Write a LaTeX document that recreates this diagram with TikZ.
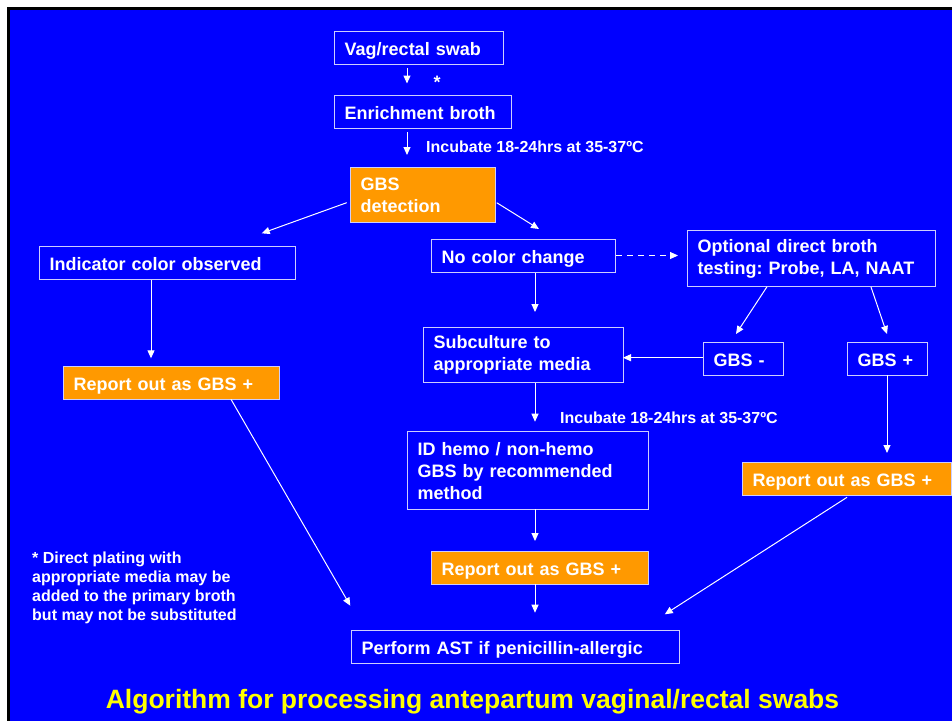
\documentclass[tikz,border=0pt]{standalone}
\usepackage{fontspec}
\setmainfont{Liberation Sans}
\frenchspacing
\usetikzlibrary{arrows.meta,calc}
\definecolor{bgblue}{RGB}{0,0,255}
\definecolor{gbsorange}{RGB}{255,153,0}
\definecolor{edgecol}{RGB}{205,205,255}
\definecolor{titleyellow}{RGB}{255,255,0}
\tikzset{
  bx/.style={draw=edgecol, line width=1.4pt, text=white, anchor=north west, align=left,
    inner xsep=10pt, inner ysep=0pt, font=\bfseries\fontsize{18}{22}\selectfont},
  obx/.style={bx, fill=gbsorange},
  oneline/.style={text height=15.5pt, text depth=1pt},
  arr/.style={draw=white, line width=1pt, -{Triangle[width=7pt,length=8pt]}},
  dasharr/.style={arr, dash pattern=on 6pt off 5pt},
  lbl/.style={text=white, inner sep=0pt, font=\bfseries\fontsize{16}{19}\selectfont}
}
\begin{document}
\frenchspacing
\begin{tikzpicture}[x=1pt,y=-1pt]
\useasboundingbox (0,0) rectangle (952,721);
\fill[white] (0,0) rectangle (952,721);
\fill[black] (7,7) rectangle (952,721);
\fill[bgblue] (10,10) rectangle (952,721);

\node[bx, oneline, text width=149pt, minimum height=33pt] (swab) at (334,31) {Vag/rectal swab};
\node[bx, oneline, text width=157pt, minimum height=33pt] (enrich) at (334,95) {Enrichment broth};
\node[obx, text width=125pt, minimum height=55pt] (gbsdet) at (350,167) {GBS\\detection};
\node[bx, oneline, text width=236pt, minimum height=33pt] (indic) at (39,246) {Indicator color observed};
\node[obx, oneline, text width=196pt, minimum height=33pt] (repL) at (63,366) {Report out as GBS +};
\node[bx, oneline, text width=164pt, minimum height=33pt] (nocol) at (431,239) {No color change};
\node[bx, text width=228pt, minimum height=56pt] (opt) at (687,230) {Optional direct broth\\testing: Probe, LA, NAAT};
\node[bx, text width=180pt, minimum height=55pt] (sub) at (423,327) {Subculture to\\appropriate media};
\node[bx, oneline, text width=60pt, minimum height=33pt] (gbsm) at (703,342) {GBS -};
\node[bx, oneline, text width=60pt, minimum height=33pt] (gbsp) at (847,342) {GBS +};
\node[bx, text width=221pt, minimum height=78pt] (idh) at (407,431) {ID hemo / non-hemo\\GBS by recommended\\method};
\node[obx, oneline, text width=189pt, minimum height=33pt] (repR) at (742,462) {Report out as GBS +};
\node[obx, oneline, text width=197pt, minimum height=33pt] (repM) at (431,551) {Report out as GBS +};
\node[bx, oneline, text width=308pt, minimum height=33pt] (ast) at (351,630) {Perform AST if penicillin-allergic};

\node[lbl, font=\bfseries\fontsize{18}{22}\selectfont] (star) at (437,82) {*};
\node[lbl, anchor=west] (inc1) at (426,146.7) {Incubate 18-24hrs at 35-37ºC};
\node[lbl, anchor=west] (inc2) at (560,418) {Incubate 18-24hrs at 35-37ºC};
\node[lbl, anchor=west, align=left] (foot) at (32,587.5) {* Direct plating with\\appropriate media may be\\added to the primary broth\\but may not be substituted};
\node[text=titleyellow, inner sep=0pt, font=\bfseries\fontsize{26.5}{30}\selectfont] (title) at (472.5,702) {Algorithm for processing antepartum vaginal/rectal swabs};

\draw[arr] ($(swab.north west)+(73,37)$) -- ($(enrich.north west)+(73,-11.5)$);
\draw[arr] ($(enrich.north west)+(73,37.3)$) -- ($(gbsdet.north west)+(57,-12)$);
\draw[arr] ($(gbsdet.north west)+(-3.3,35.7)$) -- ($(indic.north west)+(222.7,-12.7)$);
\draw[arr] ($(gbsdet.north west)+(146.7,35.7)$) -- ($(nocol.north west)+(108,-10)$);
\draw[arr] ($(indic.north west)+(112,34)$) -- ($(repL.north west)+(88,-7.7)$);
\draw[arr] ($(repL.north west)+(168,33.3)$) -- ($(ast.north west)+(-0.7,-24.3)$);
\draw[dasharr] ($(nocol.north west)+(185,16.5)$) -- ($(opt.north west)+(-9,25.5)$);
\draw[arr] ($(nocol.north west)+(104,34)$) -- ($(sub.north west)+(112,-15)$);
\draw[arr] ($(opt.north west)+(80,56.7)$) -- ($(gbsm.north west)+(33,-8)$);
\draw[arr] ($(opt.north west)+(184,57)$) -- ($(gbsp.north west)+(40,-8)$);
\draw[arr] ($(gbsm.north west)+(0,15.7)$) -- ($(sub.north west)+(200,30.7)$);
\draw[arr] ($(sub.north west)+(112,56)$) -- ($(idh.north west)+(128,-9.3)$);
\draw[arr] ($(gbsp.north west)+(40,33.3)$) -- ($(repR.north west)+(145,-9)$);
\draw[arr] ($(idh.north west)+(128,78)$) -- ($(repM.north west)+(104,-10)$);
\draw[arr] ($(repR.north west)+(105,35.3)$) -- ($(ast.north west)+(313.8,-15.7)$);
\draw[arr] ($(repM.north west)+(104,33.3)$) -- ($(ast.north west)+(184,-17.3)$);
\end{tikzpicture}
\end{document}
